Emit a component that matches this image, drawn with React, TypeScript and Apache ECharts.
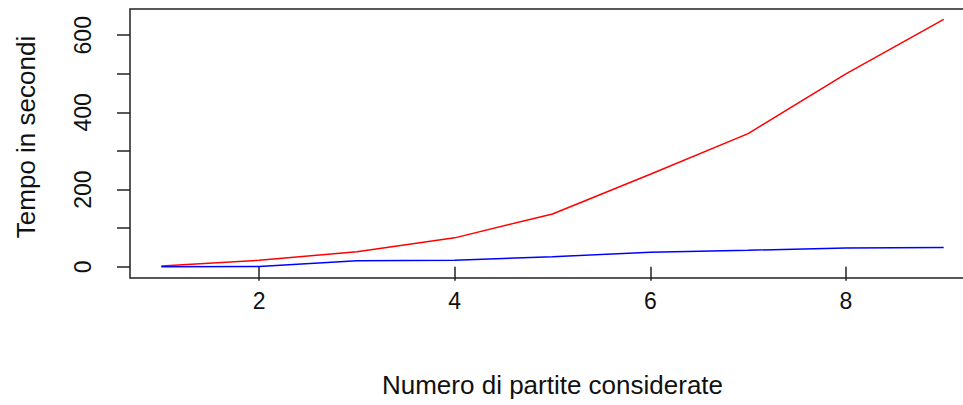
import React, { useEffect, useRef } from "react";
import * as echarts from "echarts";

// Number of matches considered (x) and elapsed time in seconds (y)
const partite = [1, 2, 3, 4, 5, 6, 7, 8, 9];
const tempoRosso = [2, 17, 39, 75, 137, 240, 345, 500, 641];
const tempoBlu = [0, 1, 16, 17, 26, 38, 43, 49, 50];
const xTicks = [2, 4, 6, 8];
const yTicks = [0, 100, 200, 300, 400, 500, 600];
const yLabels = [0, 200, 400, 600];

const FONT = "Liberation Sans, Arial, sans-serif";

export default function App() {
  const ref = useRef<HTMLDivElement>(null);

  useEffect(() => {
    document.body.style.margin = "0";
    if (!ref.current) return;
    const chart = echarts.init(ref.current, null, { renderer: "svg" });
    const pairs = (ys: number[]) => partite.map((x, i) => [x, ys[i]]);

    chart.setOption({
      animation: false,
      backgroundColor: "#ffffff",
      grid: {
        left: 130,
        top: 9,
        width: 845,
        height: 269,
        outerBoundsMode: "none",
        containLabel: false,
        show: true,
        borderColor: "#222222",
        borderWidth: 1.5,
        backgroundColor: "transparent",
      },
      xAxis: {
        type: "value",
        min: 0.68,
        max: 9.32,
        name: "Numero di partite considerate",
        nameLocation: "middle",
        nameGap: 94,
        nameTextStyle: { fontFamily: FONT, fontSize: 26, color: "#111" },
        axisLine: { show: false },
        splitLine: { show: false },
        axisTick: {
          show: true,
          length: 14,
          customValues: xTicks,
          lineStyle: { color: "#222", width: 1.5 },
        },
        axisLabel: {
          customValues: xTicks,
          margin: 11,
          fontFamily: FONT,
          fontSize: 23,
          color: "#111",
        },
      },
      yAxis: {
        type: "value",
        min: -29,
        max: 668,
        name: "Tempo in secondi",
        nameLocation: "middle",
        nameGap: 91,
        nameTextStyle: {
          fontFamily: FONT,
          fontSize: 26,
          color: "#111",
          padding: [0, 0, 0, 13],
        },
        axisLine: { show: false },
        splitLine: { show: false },
        axisTick: {
          show: true,
          length: 13,
          customValues: yTicks,
          lineStyle: { color: "#222", width: 1.5 },
        },
        axisLabel: {
          customValues: yLabels,
          rotate: 90,
          margin: 36,
          fontFamily: FONT,
          fontSize: 23,
          color: "#111",
        },
      },
      series: [
        {
          type: "line",
          data: pairs(tempoRosso),
          symbol: "none",
          lineStyle: { color: "#ff0000", width: 1.5 },
          z: 2,
        },
        {
          type: "line",
          data: pairs(tempoBlu),
          symbol: "none",
          lineStyle: { color: "#0000ff", width: 1.5 },
          z: 3,
        },
      ],
    });

    return () => chart.dispose();
  }, []);

  return <div ref={ref} style={{ width: 963, height: 405 }} />;
}
